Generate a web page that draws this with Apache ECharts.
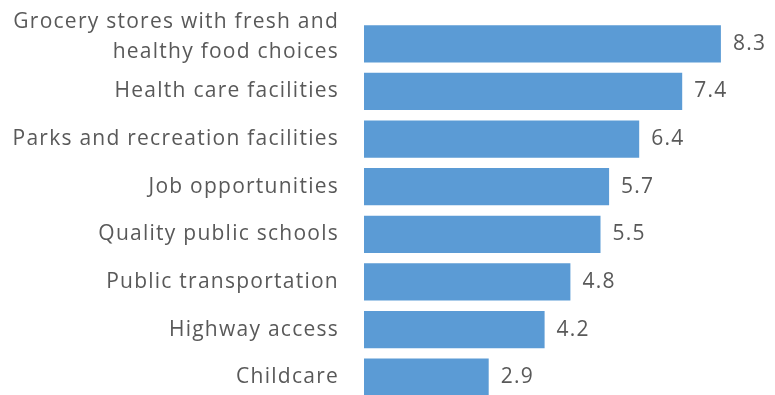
<!DOCTYPE html>
<html>
<head>
<meta charset="utf-8">
<script src="https://cdn.jsdelivr.net/npm/echarts@6/dist/echarts.min.js"></script>
<style>
html,body{margin:0;padding:0;background:#fff;}
#c{width:775px;height:395px;}
</style>
</head>
<body>
<div id="c"></div>
<script>
const categories = [
  "Grocery stores with fresh and\nhealthy food choices",
  "Health care facilities",
  "Parks and recreation facilities",
  "Job opportunities",
  "Quality public schools",
  "Public transportation",
  "Highway access",
  "Childcare"
];
const values = [8.3, 7.4, 6.4, 5.7, 5.5, 4.8, 4.2, 2.9];

// the reference text is set slightly wider than plain Open Sans
(function () {
  const P = CanvasRenderingContext2D.prototype;
  const ft = P.fillText, mt = P.measureText;
  P.fillText = function () { this.letterSpacing = '1.25px'; return ft.apply(this, arguments); };
  P.measureText = function () { this.letterSpacing = '1.25px'; return mt.apply(this, arguments); };
})();

const chart = echarts.init(document.getElementById('c'), null, {renderer: 'canvas'});
const font = '"Open Sans", sans-serif';
const txt = {color: '#595959', fontFamily: font, fontSize: 21, lineHeight: 30};
chart.setOption({
  animation: false,
  grid: {left: 364, top: 20, width: 387, height: 381, outerBoundsMode: 'none', containLabel: false},
  xAxis: {
    type: 'value', min: 0, max: 9, show: false
  },
  yAxis: {
    type: 'category',
    inverse: true,
    data: categories,
    axisLine: {show: false},
    axisTick: {show: false},
    axisLabel: Object.assign({
      interval: 0, hideOverlap: false, margin: 25, align: 'right',
      formatter: v => v.indexOf('\n') < 0 ? v :
        v.split('\n').map(s => '{g|' + s + '}').join('\n') + '\n{s| }',
      rich: {
        g: Object.assign({}, txt),
        s: {fontSize: 10, lineHeight: 14, fontFamily: font}
      }
    }, txt)
  },
  series: [{
    type: 'bar',
    data: values,
    barCategoryGap: '22%',
    itemStyle: {color: '#5B9BD5'},
    label: {
      show: true, position: 'right', distance: 12,
      color: '#595959', fontFamily: font, fontSize: 21,
      formatter: p => p.value.toFixed(1)
    }
  }]
});
</script>
</body>
</html>
